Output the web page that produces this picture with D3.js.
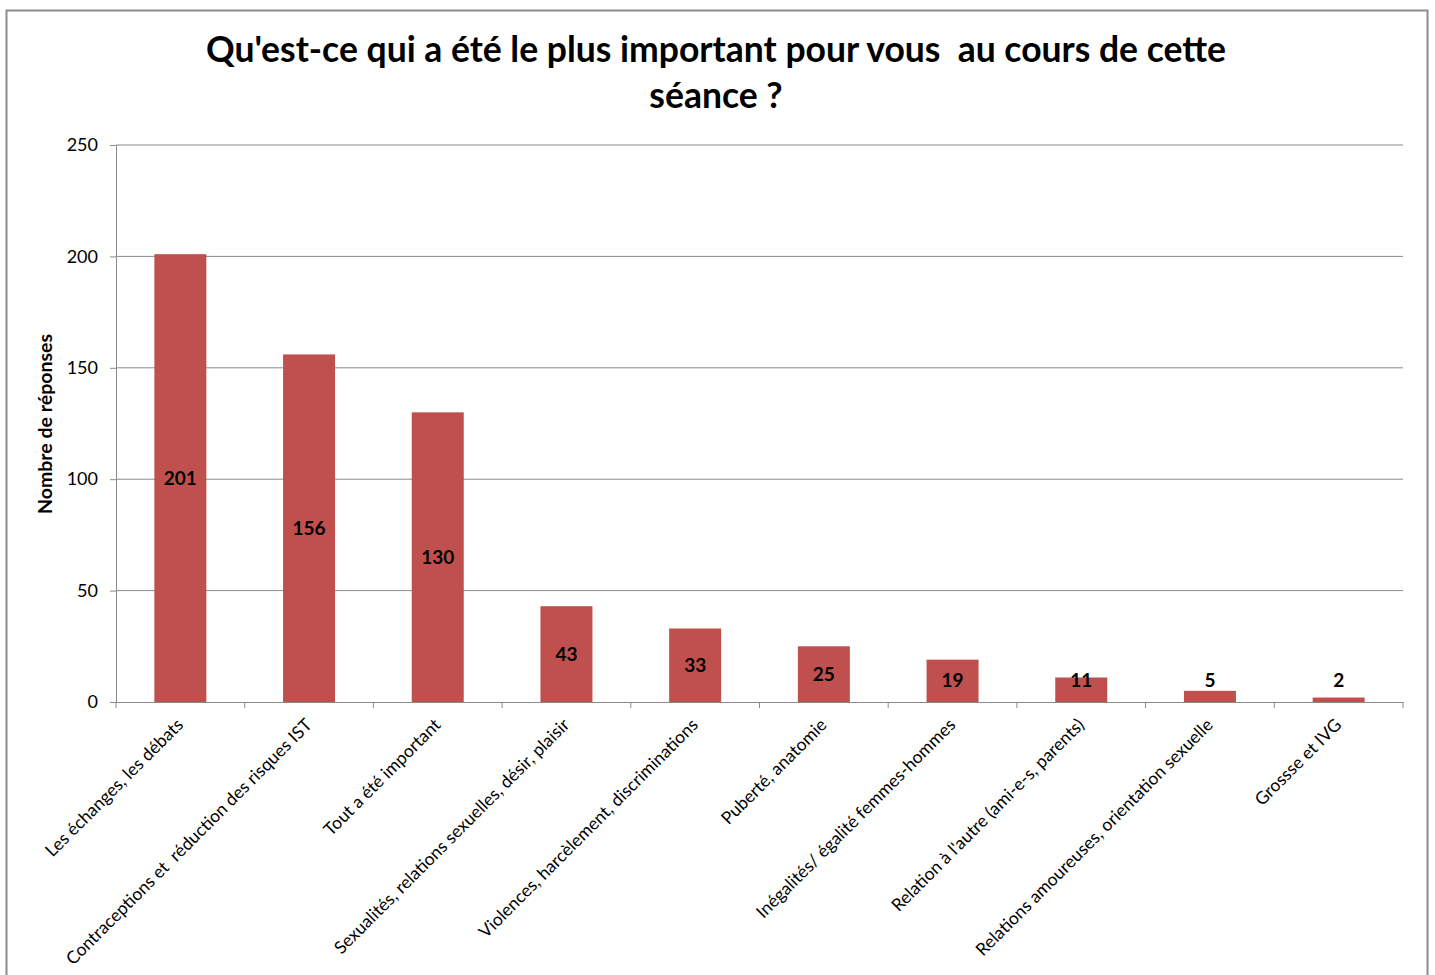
<!DOCTYPE html>
<html>
<head>
<meta charset="utf-8">
<script src="https://cdn.jsdelivr.net/npm/d3@7"></script>
<style>
  body { margin: 0; background: #fff; }
  svg { display: block; font-family: Lato, "Open Sans", sans-serif; }
  text { white-space: pre; }
</style>
</head>
<body>
<svg id="chart" width="1435" height="975"></svg>
<script>
const categories = [
  "Les échanges, les débats",
  "Contraceptions et  réduction des risques IST",
  "Tout a été important",
  "Sexualités, relations sexuelles, désir, plaisir",
  "Violences, harcèlement, discriminations",
  "Puberté, anatomie",
  "Inégalités/ égalité femmes-hommes",
  "Relation à l'autre (ami-e-s, parents)",
  "Relations amoureuses, orientation sexuelle",
  "Grossse et IVG",
];
const values = [201, 156, 130, 43, 33, 25, 19, 11, 5, 2];
const yTicks = [0, 50, 100, 150, 200, 250];
const titleLines = [
  "Qu'est-ce qui a été le plus important pour vous  au cours de cette",
  "séance ?",
];

const svg = d3.select("#chart");

// outer frame
svg.append("rect")
  .attr("x", 6.5).attr("y", 10.5)
  .attr("width", 1421).attr("height", 980)
  .attr("fill", "none").attr("stroke", "#8c8c8c").attr("stroke-width", 2);

const plotLeft = 116, plotRight = 1403, plotTop = 145, plotBottom = 702;

const x = d3.scaleBand().domain(categories).range([plotLeft, plotRight]).padding(0);
const y = d3.scaleLinear().domain([0, 250]).range([plotBottom, plotTop]);

// gridlines
svg.append("g")
  .selectAll("line")
  .data(yTicks.filter((t) => t > 0))
  .enter()
  .append("line")
  .attr("x1", plotLeft).attr("x2", plotRight)
  .attr("y1", (d) => y(d)).attr("y2", (d) => y(d))
  .attr("stroke", "#8a8a8a").attr("stroke-width", 1);

// y axis
const yAxis = svg.append("g")
  .attr("transform", `translate(${plotLeft},0)`)
  .call(d3.axisLeft(y).tickValues(yTicks).tickSize(6).tickPadding(12));
yAxis.select(".domain").attr("stroke", "#8a8a8a");
yAxis.selectAll(".tick line").attr("stroke", "#8a8a8a");
yAxis.selectAll(".tick text")
  .attr("font-size", 18).attr("fill", "#000")
  .attr("font-family", "Lato, 'Open Sans', sans-serif");

// bars
const barW = 52;
svg.append("g")
  .selectAll("rect")
  .data(values)
  .enter()
  .append("rect")
  .attr("x", (d, i) => x(categories[i]) + x.bandwidth() / 2 - barW / 2)
  .attr("y", (d) => y(d))
  .attr("width", barW)
  .attr("height", (d) => plotBottom - y(d))
  .attr("fill", "#c0504d");

// x axis
const xAxis = svg.append("g")
  .attr("transform", `translate(0,${plotBottom})`)
  .call(d3.axisBottom(x).tickSize(0).tickFormat(""));
xAxis.select(".domain").attr("stroke", "#8a8a8a");
xAxis.selectAll(".tick").remove();

// tick marks at band boundaries
const bounds = categories.map((c) => x(c)).concat([plotRight]);
svg.append("g")
  .selectAll("line")
  .data(bounds)
  .enter()
  .append("line")
  .attr("x1", (d) => d).attr("x2", (d) => d)
  .attr("y1", plotBottom).attr("y2", plotBottom + 6)
  .attr("stroke", "#8a8a8a");

// category labels
svg.append("g")
  .selectAll("text")
  .data(categories)
  .enter()
  .append("text")
  .attr("transform", (d) => `translate(${x(d) + x.bandwidth() / 2 + 4},${plotBottom + 24}) rotate(-45)`)
  .attr("text-anchor", "end")
  .attr("font-size", 17.5)
  .attr("fill", "#000")
  .text((d) => d);

// value labels
svg.append("g")
  .selectAll("text")
  .data(values)
  .enter()
  .append("text")
  .attr("x", (d, i) => x(categories[i]) + x.bandwidth() / 2)
  .attr("y", (d) => Math.min(y(d / 2), plotBottom - 22))
  .attr("dy", "0.35em")
  .attr("text-anchor", "middle")
  .attr("font-size", 19)
  .attr("font-weight", "bold")
  .attr("fill", "#000")
  .text((d) => d);

// y axis title
svg.append("text")
  .attr("transform", `translate(52,424) rotate(-90)`)
  .attr("text-anchor", "middle")
  .attr("font-size", 19.5)
  .attr("font-weight", "bold")
  .text("Nombre de réponses");

// title
svg.append("g")
  .selectAll("text")
  .data(titleLines)
  .enter()
  .append("text")
  .attr("x", 716)
  .attr("y", (d, i) => 62 + i * 46)
  .attr("text-anchor", "middle")
  .attr("font-size", 35.5)
  .attr("font-weight", "bold")
  .text((d) => d);
</script>
</body>
</html>
